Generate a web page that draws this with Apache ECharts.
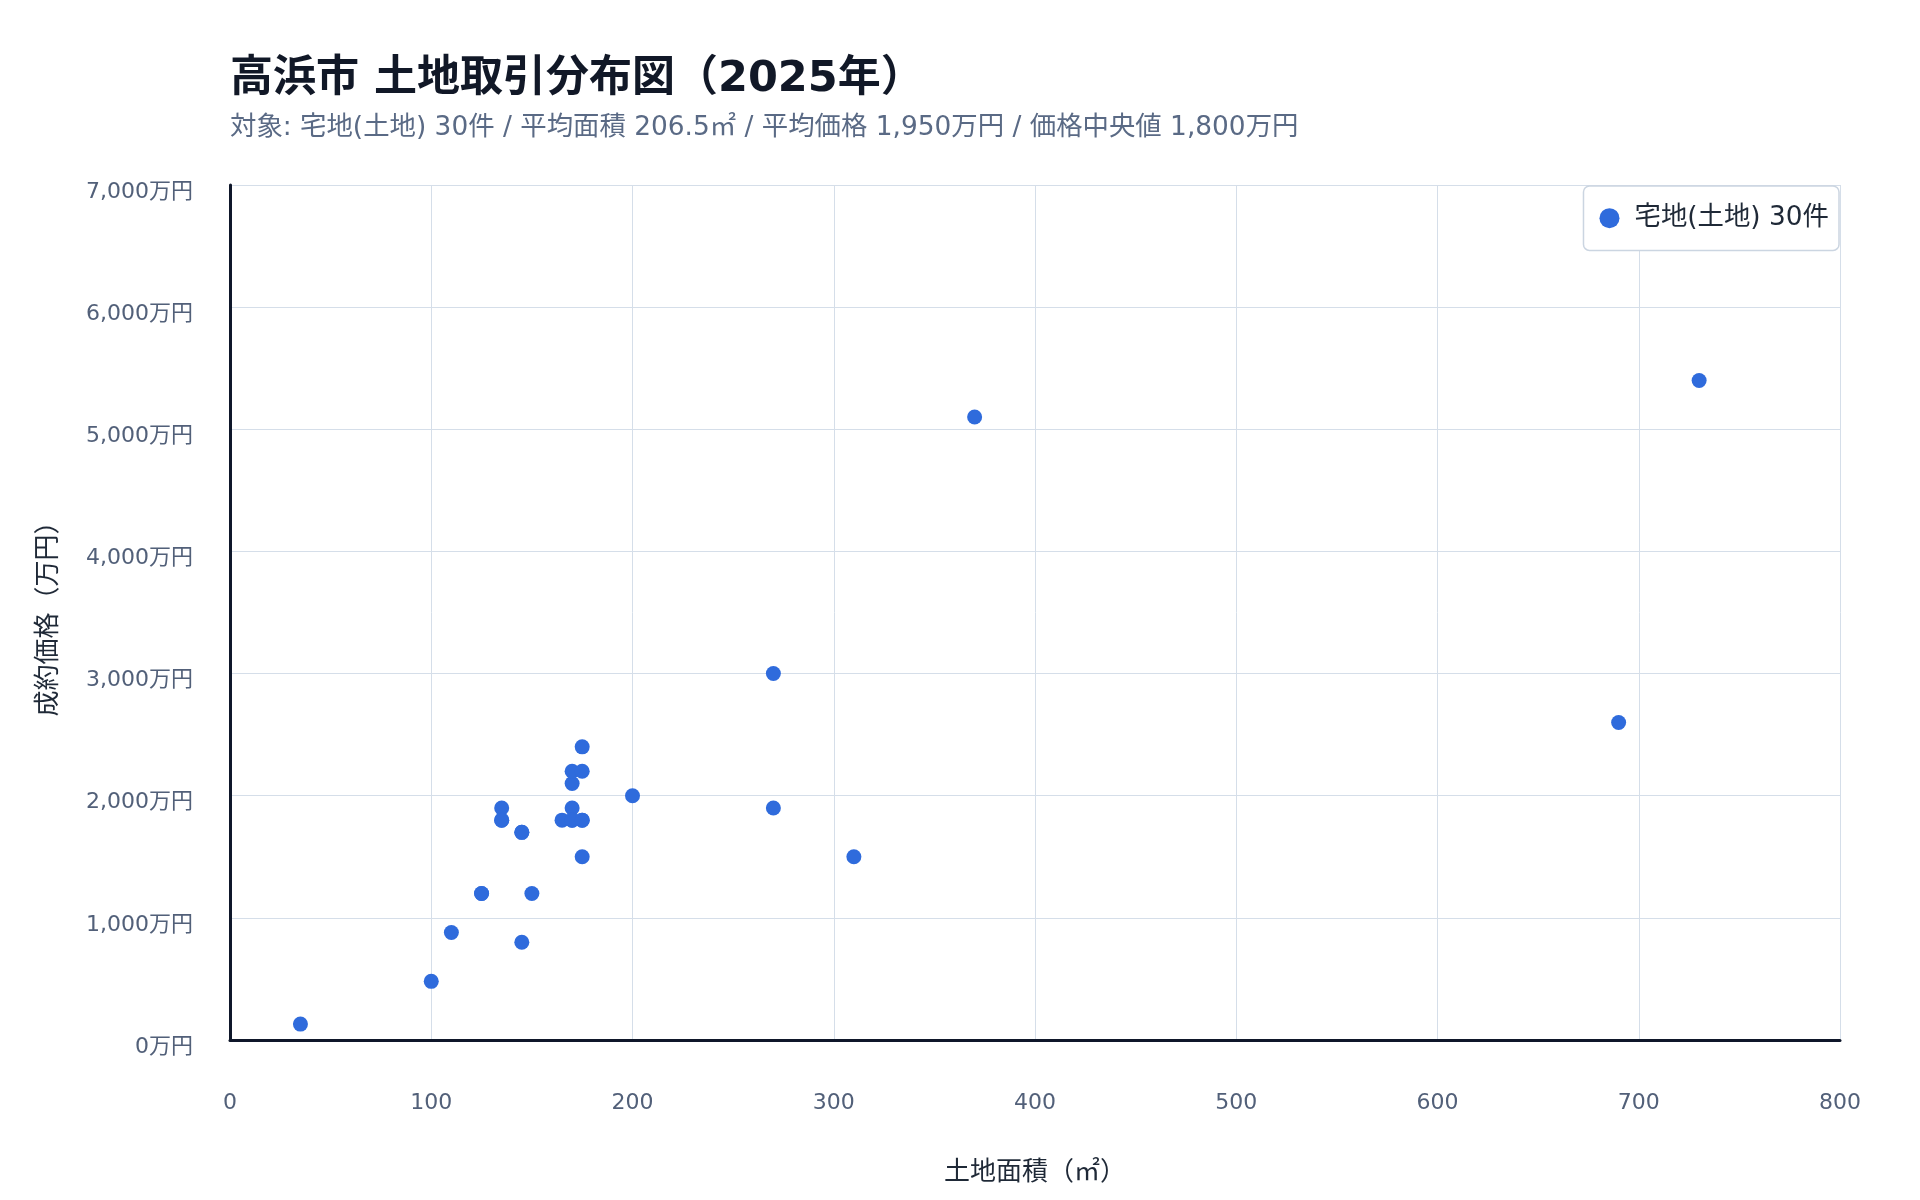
<!DOCTYPE html>
<html>
  <head>
    <title>高浜市 土地取引分布図</title>
    <meta charset="utf-8" />
    <script src="https://cdn.jsdelivr.net/npm/echarts@6/dist/echarts.min.js"></script>
    <style>
      html, body { margin: 0; padding: 0; background: #ffffff; }
      #main { width: 1920px; height: 1200px; }
    </style>
  </head>
  <body>
    <div id="main"></div>
    <script type="text/javascript">
      // 土地面積（㎡）と成約価格（万円）、30件
      var areas = [35, 100, 110, 125, 145, 150, 135, 135, 145, 165,
                   170, 175, 170, 175, 170, 170, 175, 175, 200, 270,
                   270, 310, 370, 690, 730, 135, 145, 170, 175, 125];
      var prices = [130, 480, 880, 1200, 800, 1200, 1800, 1900, 1700, 1800,
                    1800, 1800, 1900, 1500, 2100, 2200, 2200, 2400, 2000, 3000,
                    1900, 1500, 5100, 2600, 5400, 1800, 1700, 1800, 1800, 1200];
      var seriesName = '宅地(土地) 30件';
      var titleText = '高浜市 土地取引分布図（2025年）';
      var subText = '対象: 宅地(土地) 30件 / 平均面積 206.5㎡ / 平均価格 1,950万円 / 価格中央値 1,800万円';

      var points = [];
      for (var i = 0; i < areas.length; i++) {
        points.push([areas[i], prices[i]]);
      }

      var font = '"DejaVu Sans", "Noto Sans CJK JP", sans-serif';
      var myChart = echarts.init(document.getElementById('main'));

      var option = {
        backgroundColor: '#ffffff',
        textStyle: { fontFamily: font },
        title: {
          text: titleText,
          subtext: subText,
          left: 230,
          top: 55,
          padding: 0,
          itemGap: 7,
          textStyle: { fontSize: 43, fontWeight: 'bold', color: '#111827', lineHeight: 50, fontFamily: font },
          subtextStyle: { fontSize: 26.4, color: '#5a6a85', lineHeight: 32, fontFamily: font }
        },
        legend: {
          data: [seriesName],
          right: 81,
          top: 186,
          orient: 'vertical',
          backgroundColor: '#ffffff',
          borderColor: '#cbd5e1',
          borderWidth: 1.5,
          borderRadius: 6,
          padding: [19, 10, 19, 16],
          itemWidth: 40,
          itemHeight: 20,
          itemGap: 10,
          textStyle: { fontSize: 26.4, color: '#1f2937', fontFamily: font }
        },
        grid: { left: 230, right: 80, top: 185, bottom: 160 },
        xAxis: {
          type: 'value',
          min: 0,
          max: 800,
          interval: 100,
          name: '土地面積（㎡）',
          nameLocation: 'middle',
          nameGap: 120,
          nameTextStyle: { fontSize: 26, color: '#1f2937' },
          axisLine: { show: true, onZero: false, lineStyle: { color: '#0f172a', width: 3 } },
          axisTick: { show: false },
          axisLabel: { fontSize: 22, color: '#526079', margin: 52 },
          splitLine: { show: true, lineStyle: { color: '#d5dee9', width: 1 } }
        },
        yAxis: {
          type: 'value',
          min: 0,
          max: 7000,
          interval: 1000,
          name: '成約価格（万円）',
          nameLocation: 'middle',
          nameRotate: 90,
          nameGap: 168,
          nameTextStyle: { fontSize: 26, color: '#1f2937' },
          axisLine: { show: true, onZero: false, lineStyle: { color: '#0f172a', width: 3 } },
          axisTick: { show: false },
          axisLabel: {
            fontSize: 22,
            color: '#526079',
            margin: 37,
            verticalAlign: 'top',
            lineHeight: 14,
            formatter: function (v) { return v.toLocaleString('en-US') + '万円'; }
          },
          splitLine: { show: true, lineStyle: { color: '#d5dee9', width: 1 } }
        },
        series: [{
          name: seriesName,
          type: 'scatter',
          symbol: 'circle',
          symbolSize: 15,
          itemStyle: { color: '#2f6bdc', opacity: 1 },
          data: points
        }]
      };

      myChart.setOption(option);
    </script>
  </body>
</html>
